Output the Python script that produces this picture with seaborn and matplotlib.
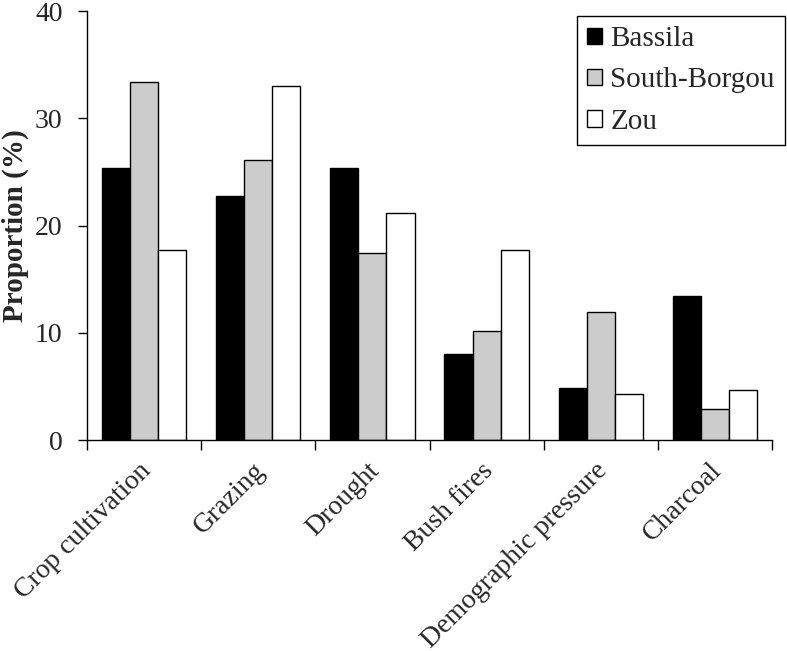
import pandas as pd
import matplotlib
matplotlib.use("Agg")
import matplotlib.pyplot as plt
import seaborn as sns
from matplotlib.transforms import ScaledTranslation

categorias = ['Crop cultivation', 'Grazing', 'Drought', 'Bush fires',
              'Demographic pressure', 'Charcoal']
regioes = ['Bassila', 'South-Borgou', 'Zou']
bassila = [25.4, 22.8, 25.4, 8.0, 4.9, 13.4]
south_borgou = [33.4, 26.1, 17.4, 10.2, 11.9, 2.9]
zou = [17.7, 33.0, 21.2, 17.7, 4.3, 4.7]
cores = ['#000000', '#cccccc', '#ffffff']

dados = pd.DataFrame({
    'Categoria': categorias * 3,
    'Regiao': [r for r in regioes for _ in categorias],
    'Proporcao': bassila + south_borgou + zou,
})

sns.set_theme(style="ticks")
plt.rcParams['font.family'] = ['Liberation Serif', 'DejaVu Serif']

fig = plt.figure(figsize=(7.87, 6.51), dpi=100)
ax = fig.add_axes([0.1105, 0.324, 0.8705, 0.659])

sns.barplot(data=dados, x='Categoria', y='Proporcao', hue='Regiao',
            order=categorias, hue_order=regioes, palette=cores,
            saturation=1, width=0.74, edgecolor='black', linewidth=1,
            ax=ax)

ax.set_xlim(-0.5, len(categorias) - 0.5)
ax.set_ylim(0, 40)
ax.set_yticks([0, 10, 20, 30, 40])
ax.tick_params(axis='y', labelsize=20, length=6.5, width=1, color='black',
               direction='out', pad=11)
ax.tick_params(axis='x', which='major', length=0, pad=13)
ax.set_xticks([i - 0.5 for i in range(len(categorias) + 1)], minor=True)
ax.tick_params(axis='x', which='minor', length=7, width=1, color='black', direction='out')
ax.set_xticklabels(categorias, rotation=45, ha='right', va='top',
                   rotation_mode='anchor', fontsize=20)
for lbl in ax.get_xticklabels():
    lbl.set_transform(lbl.get_transform() + ScaledTranslation(-0.06, 0, fig.dpi_scale_trans))

ax.set_xlabel('')
ax.set_ylabel('Proportion (%)', fontsize=21, fontweight='bold', labelpad=4)
sns.despine(ax=ax)
for s in ['left', 'bottom']:
    ax.spines[s].set_color('black')
    ax.spines[s].set_linewidth(1)

leg = ax.legend(loc='upper right', bbox_to_anchor=(785 / 787, 1 - 16 / 651),
                bbox_transform=fig.transFigure, fontsize=21, frameon=True,
                fancybox=False, edgecolor='black', framealpha=1,
                handlelength=0.5, handleheight=0.5, handletextpad=0.3,
                labelspacing=0.52, borderpad=0.35, borderaxespad=0)
leg.get_frame().set_linewidth(1)
for h in leg.legend_handles:
    h.set_edgecolor('black')
    h.set_linewidth(1)

fig.savefig('out.png', dpi=100)
